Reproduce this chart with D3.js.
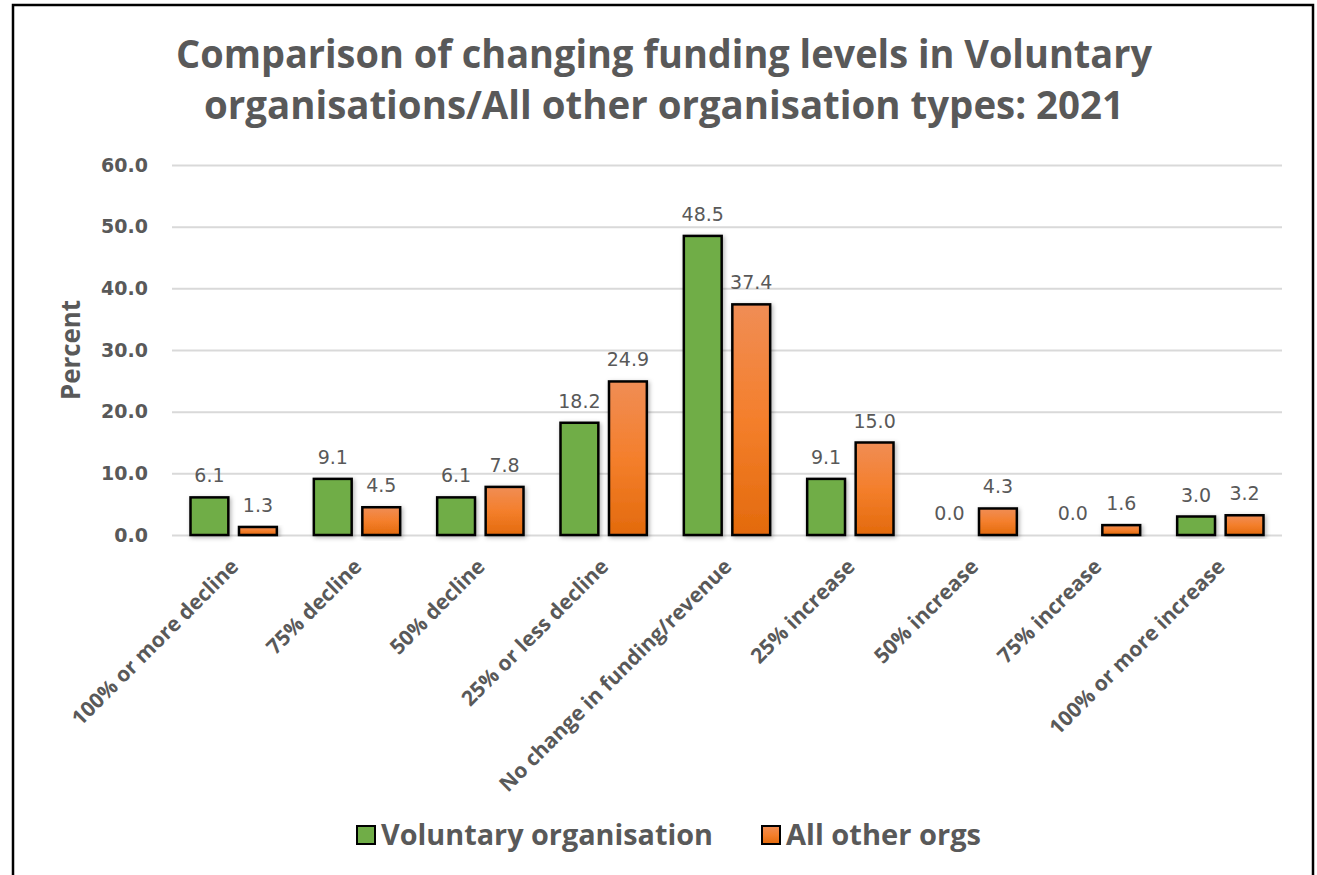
<!DOCTYPE html>
<html>
<head>
<meta charset="utf-8">
<script src="https://cdn.jsdelivr.net/npm/d3@7"></script>
<style>
  html, body { margin: 0; padding: 0; background: #fff; }
  svg { display: block; }
</style>
</head>
<body>
<svg id="chart" width="1317" height="875"></svg>
<script>
// Funding change categories and the share (%) of each organisation group
const categories = [
  "100% or more decline", "75% decline", "50% decline", "25% or less decline",
  "No change in funding/revenue", "25% increase", "50% increase", "75% increase",
  "100% or more increase"
];
const seriesNames = ["Voluntary organisation", "All other orgs"];
const voluntary = [6.1, 9.1, 6.1, 18.2, 48.5, 9.1, 0.0, 0.0, 3.0];
const allOther  = [1.3, 4.5, 7.8, 24.9, 37.4, 15.0, 4.3, 1.6, 3.2];
const yTicks = [0, 10, 20, 30, 40, 50, 60];
const titleLines = [
  "Comparison of changing funding levels in Voluntary",
  "organisations/All other organisation types: 2021"
];

const svg = d3.select("#chart");
const grey = "#595959";
const sansBold = "'Open Sans', 'DejaVu Sans', sans-serif";

const plot = { left: 172, right: 1282, top: 165, bottom: 535 };

// Outer frame
svg.append("rect")
  .attr("x", 13).attr("y", 5).attr("width", 1300).attr("height", 890)
  .attr("fill", "#fff").attr("stroke", "#000").attr("stroke-width", 2.5);

const defs = svg.append("defs");
const grad = defs.append("linearGradient").attr("id", "orangeGrad")
  .attr("x1", 0).attr("y1", 0).attr("x2", 0).attr("y2", 1);
grad.append("stop").attr("offset", "0%").attr("stop-color", "#f08d55");
grad.append("stop").attr("offset", "50%").attr("stop-color", "#f47f2c");
grad.append("stop").attr("offset", "100%").attr("stop-color", "#e36a0c");

const shadow = defs.append("filter").attr("id", "barShadow")
  .attr("x", "-20%").attr("y", "-20%").attr("width", "140%").attr("height", "140%");
shadow.append("feDropShadow").attr("dx", 1.5).attr("dy", 1.5)
  .attr("stdDeviation", 2).attr("flood-color", "#000").attr("flood-opacity", 0.3);

// Scales
const x0 = d3.scaleBand().domain(categories)
  .range([plot.left, plot.right]).paddingInner(0.30).paddingOuter(0.15);
const x1 = d3.scaleBand().domain(seriesNames)
  .range([0, x0.bandwidth()]).paddingInner(0.22);
const y = d3.scaleLinear().domain([0, 60]).range([plot.bottom, plot.top]);
const colors = { "Voluntary organisation": "#70ad47", "All other orgs": "url(#orangeGrad)" };

// Title
svg.append("g").selectAll("text").data(titleLines).join("text")
  .attr("x", 664).attr("y", (d, i) => 68 + i * 51)
  .attr("text-anchor", "middle")
  .attr("font-family", sansBold).attr("font-weight", 700)
  .attr("font-size", 40).attr("fill", grey)
  .attr("textLength", (d, i) => i === 0 ? 976 : 920)
  .attr("lengthAdjust", "spacingAndGlyphs")
  .text(d => d);

// Gridlines and y axis labels
const yAxis = d3.axisLeft(y).tickValues(yTicks)
  .tickSize(-(plot.right - plot.left)).tickPadding(24)
  .tickFormat(d3.format(".1f"));
const gy = svg.append("g").attr("transform", `translate(${plot.left},0)`).call(yAxis);
gy.select(".domain").remove();
gy.selectAll(".tick line").attr("stroke", "#d9d9d9").attr("stroke-width", 2);
gy.selectAll(".tick text")
  .attr("font-family", "'DejaVu Sans', sans-serif").attr("font-weight", 700)
  .attr("font-size", 19).attr("fill", grey);

// Y axis title
svg.append("text")
  .attr("transform", "translate(80,350) rotate(-90)")
  .attr("text-anchor", "middle")
  .attr("font-family", sansBold).attr("font-weight", 700)
  .attr("font-size", 27).attr("fill", grey)
  .attr("textLength", 100).attr("lengthAdjust", "spacingAndGlyphs")
  .text("Percent");

// Bars
const rows = categories.map((c, i) => ({
  category: c,
  values: [
    { series: seriesNames[0], value: voluntary[i] },
    { series: seriesNames[1], value: allOther[i] }
  ]
}));

const groups = svg.append("g").selectAll("g").data(rows).join("g")
  .attr("transform", d => `translate(${x0(d.category)},0)`);

groups.selectAll("rect").data(d => d.values.filter(v => v.value > 0)).join("rect")
  .attr("x", d => x1(d.series))
  .attr("y", d => y(d.value))
  .attr("width", x1.bandwidth())
  .attr("height", d => y(0) - y(d.value))
  .attr("fill", d => colors[d.series])
  .attr("stroke", "#000").attr("stroke-width", 2.5)
  .attr("filter", "url(#barShadow)");

groups.selectAll("text").data(d => d.values).join("text")
  .attr("x", d => x1(d.series) + x1.bandwidth() / 2)
  .attr("y", d => y(d.value) - 15)
  .attr("text-anchor", "middle")
  .attr("font-family", "'DejaVu Sans', sans-serif")
  .attr("font-size", 19).attr("fill", grey)
  .text(d => d.value.toFixed(1));

// Category labels, rotated
const xAxis = d3.axisBottom(x0).tickSize(0).tickPadding(0);
const gx = svg.append("g").attr("transform", `translate(0,${plot.bottom})`).call(xAxis);
gx.select(".domain").remove();
gx.selectAll(".tick text")
  .attr("font-family", sansBold).attr("font-weight", 700)
  .attr("font-size", 21).attr("fill", grey)
  .attr("text-anchor", "end")
  .attr("dy", null)
  .attr("transform", "translate(6,33) rotate(-45)");

// Legend
const legendItems = [
  { name: seriesNames[0], x: 357, w: 332 },
  { name: seriesNames[1], x: 762, w: 195 }
];
const lg = svg.append("g").selectAll("g").data(legendItems).join("g")
  .attr("transform", d => `translate(${d.x},835)`);
lg.append("rect")
  .attr("x", 0).attr("y", -9).attr("width", 18).attr("height", 18)
  .attr("fill", d => colors[d.name]).attr("stroke", "#000").attr("stroke-width", 2);
lg.append("text")
  .attr("x", 24).attr("y", 10)
  .attr("font-family", sansBold).attr("font-weight", 700)
  .attr("font-size", 29).attr("fill", grey)
  .attr("textLength", d => d.w).attr("lengthAdjust", "spacingAndGlyphs")
  .text(d => d.name);
</script>
</body>
</html>
